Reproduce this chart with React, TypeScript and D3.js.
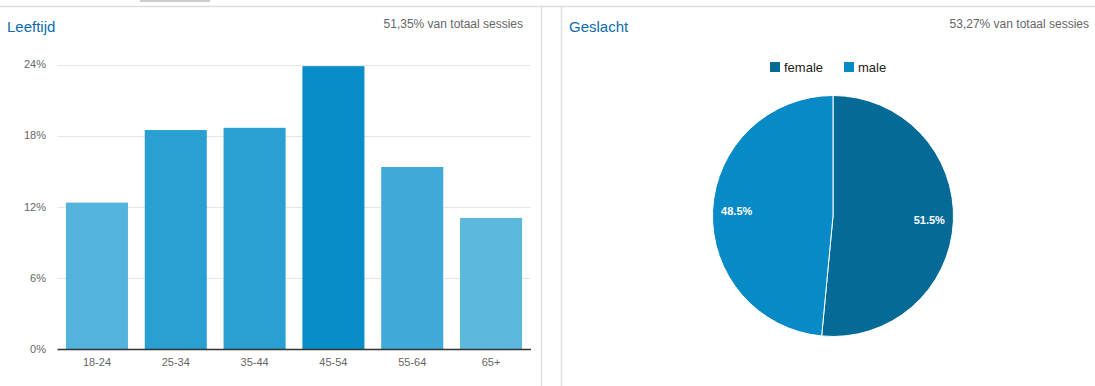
import React from 'react'
import * as d3 from 'd3'

// Leeftijd (age) bar chart
const ageGroups = ['18-24', '25-34', '35-44', '45-54', '55-64', '65+']
const ageShares = [12.35, 18.47, 18.66, 23.86, 15.35, 11.06]
const ageColors = ['#54b3dc', '#2a9fd2', '#2a9fd2', '#078ec8', '#3fa9d7', '#5db8de']
const yTicks = [0, 6, 12, 18, 24]

// Geslacht (gender) pie chart
const genders = ['female', 'male']
const genderShares = [51.5, 48.5]
const genderColors = ['#056a96', '#078ac6']

const font = '"Liberation Sans", Arial, sans-serif'

function AgeChart() {
  const x = d3.scaleBand()
    .domain(ageGroups)
    .range([57.5, 530.5])
    .paddingInner(0.213)
    .paddingOuter(0.107)

  const y = d3.scaleLinear()
    .domain([0, 24])
    .range([349, 64.5])

  return (
    <g>
      <text x={7} y={32} fontSize={15} fill="#0b6cae">Leeftijd</text>
      <text x={523} y={28} fontSize={12} fill="#666" textAnchor="end">51,35% van totaal sessies</text>

      {yTicks.map(t => (
        <g key={t}>
          {t > 0 && (
            <line x1={57.5} x2={530.5} y1={Math.round(y(t)) + 0.5} y2={Math.round(y(t)) + 0.5}
              stroke="#e6e6e6" strokeWidth={1} />
          )}
          <text x={46} y={y(t)} dy="0.35em" fontSize={11} fill="#666" textAnchor="end">{t}%</text>
        </g>
      ))}

      {ageGroups.map((g, i) => (
        <rect key={g}
          x={x(g)}
          y={y(ageShares[i])}
          width={x.bandwidth()}
          height={y(0) - y(ageShares[i])}
          fill={ageColors[i]} />
      ))}

      <line x1={57.5} x2={531} y1={349.5} y2={349.5} stroke="#333" strokeWidth={1.5} />

      {ageGroups.map(g => (
        <text key={g} x={(x(g) ?? 0) + x.bandwidth() / 2} y={366} fontSize={11} fill="#666" textAnchor="middle">{g}</text>
      ))}
    </g>
  )
}

function GenderChart() {
  const cx = 833, cy = 216, r = 120.5
  const pie = d3.pie<number>().sort(null).value(d => d)
  const arcs = pie(genderShares)
  const arc = d3.arc<d3.PieArcDatum<number>>().innerRadius(0).outerRadius(r)
  const labelArc = d3.arc<d3.PieArcDatum<number>>().innerRadius(r * 0.8).outerRadius(r * 0.8)

  const legendX = [770, 844]

  return (
    <g>
      <text x={569} y={32} fontSize={15} fill="#0b6cae">Geslacht</text>
      <text x={1089} y={28} fontSize={12} fill="#666" textAnchor="end">53,27% van totaal sessies</text>

      {genders.map((g, i) => (
        <g key={g}>
          <rect x={legendX[i]} y={62} width={10} height={10} fill={genderColors[i]} />
          <text x={legendX[i] + 14} y={71.5} fontSize={13} fill="#222">{g}</text>
        </g>
      ))}

      <g transform={`translate(${cx},${cy})`}>
        {arcs.map((a, i) => (
          <path key={genders[i]} d={arc(a) ?? ''} fill={genderColors[i]} stroke="#fff" strokeWidth={1} />
        ))}
        {arcs.map((a, i) => {
          const [lx, ly] = labelArc.centroid(a)
          return (
            <text key={genders[i]} x={lx} y={ly} dy="0.35em" fontSize={11} fontWeight="bold"
              fill="#fff" textAnchor="middle">{genderShares[i].toFixed(1)}%</text>
          )
        })}
      </g>
    </g>
  )
}

export default function App() {
  return (
    <svg width={1095} height={386} fontFamily={font}
      style={{ position: 'absolute', left: 0, top: 0, background: '#fff' }}>
      <rect x={140} y={0} width={70} height={2} fill="#ccc" />
      <line x1={0} x2={1095} y1={6.5} y2={6.5} stroke="#ddd" strokeWidth={1.5} />
      <line x1={541.5} x2={541.5} y1={7} y2={386} stroke="#ddd" strokeWidth={1.5} />
      <line x1={561.5} x2={561.5} y1={7} y2={386} stroke="#ddd" strokeWidth={1.5} />
      <AgeChart />
      <GenderChart />
    </svg>
  )
}
